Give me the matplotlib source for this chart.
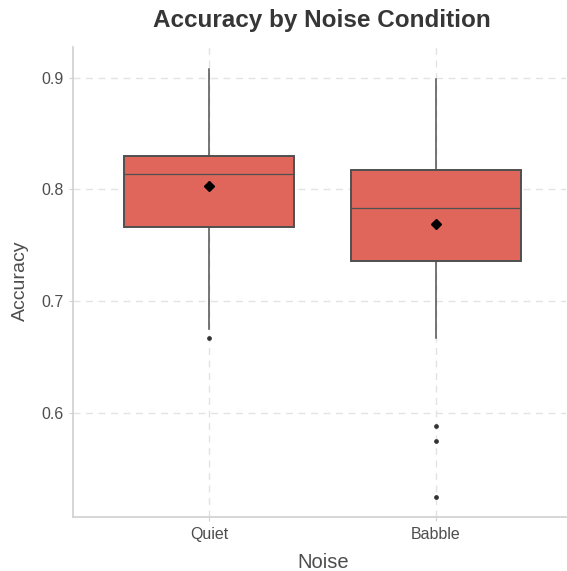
import matplotlib
matplotlib.use("Agg")
import matplotlib.pyplot as plt

# ---- data ----
groups = ["Quiet", "Babble"]
whislo = [0.675, 0.667]
q1 = [0.766, 0.736]
med = [0.814, 0.783]
q3 = [0.830, 0.817]
whishi = [0.908, 0.899]
means = [0.803, 0.769]
fliers = [[0.667], [0.588, 0.575, 0.525]]
yticks = [0.6, 0.7, 0.8, 0.9]

plt.rcParams["font.family"] = ["Liberation Sans", "DejaVu Sans"]

BOX = "#E0655A"
EDGE = "#505050"
TXT = "#4d4d4d"

W, H = 567, 571
fig = plt.figure(figsize=(W / 100, H / 100), dpi=100)
ax = fig.add_axes([73 / W, (H - 517) / H, (566 - 73) / W, (517 - 47) / H])

stats = []
for i, g in enumerate(groups):
    stats.append(dict(label=g, whislo=whislo[i], q1=q1[i], med=med[i], q3=q3[i],
                      whishi=whishi[i], fliers=fliers[i], mean=means[i]))

pos = list(range(1, len(groups) + 1))
ax.bxp(stats, positions=pos, widths=0.75, patch_artist=True, showmeans=True,
       showcaps=False,
       boxprops=dict(facecolor=BOX, edgecolor=EDGE, linewidth=1.4),
       medianprops=dict(color=EDGE, linewidth=0.9),
       whiskerprops=dict(color=EDGE, linewidth=1.1),
       flierprops=dict(marker="o", markersize=2.4, markerfacecolor="#333333",
                       markeredgecolor="#333333"),
       meanprops=dict(marker="D", markersize=5.5, markerfacecolor="black",
                      markeredgecolor="black"),
       zorder=3)

ax.set_xlim(0.4, 2.573)
ax.set_ylim(0.507, 0.9273)
ax.set_yticks(yticks)
ax.set_yticklabels([f"{t:.1f}" for t in yticks])
ax.set_xticks(pos)
ax.set_xticklabels(groups)

ax.grid(True, color="#e3e3e3", linestyle=(0, (5, 4)), linewidth=1.0, zorder=0)
ax.set_axisbelow(True)
for s in ["top", "right"]:
    ax.spines[s].set_visible(False)
for s in ["left", "bottom"]:
    ax.spines[s].set_color("#d0d0d0")
    ax.spines[s].set_linewidth(1.2)
ax.tick_params(colors="#d0d0d0", length=3, width=0.8, labelcolor=TXT,
               labelsize=11.5, pad=4)

fig.text(323 / W, 1 - 562 / H, "Noise", ha="center", va="center",
         fontsize=14.5, color=TXT)
fig.text(20 / W, 1 - 281 / H, "Accuracy", ha="center", va="center",
         rotation=90, fontsize=14, color=TXT)
fig.text(322 / W, 1 - 21 / H, "Accuracy by Noise Condition", ha="center",
         va="center", fontsize=17.5, fontweight="bold", color="#363636")

fig.savefig("out.png", dpi=100, facecolor="white")
